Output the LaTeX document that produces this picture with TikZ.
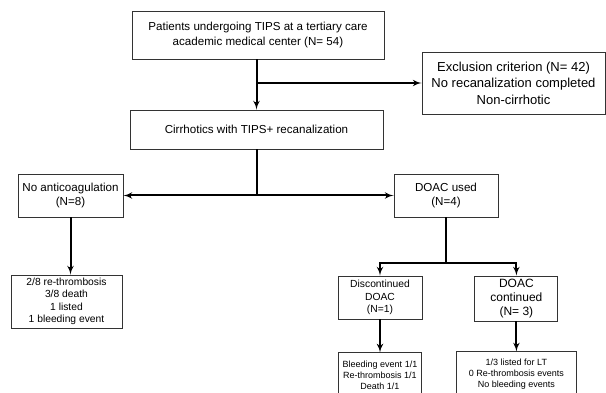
\documentclass[tikz,border=0pt]{standalone}
\usepackage{fontspec}
\setmainfont{Liberation Sans}
\usepackage{tikz}
\usetikzlibrary{calc,arrows,shapes,positioning}
\definecolor{boxgray}{HTML}{333333}
\tikzset{
box/.style={
  rectangle,
  draw=boxgray,
  line width=0.9pt,
  align=center,
  inner sep=0pt},
line/.style={draw, line width=2pt, -latex'},
big/.style={font=\fontsize{13}{16.5}\selectfont},
mid/.style={font=\fontsize{11.6}{14.2}\selectfont},
small/.style={font=\fontsize{10.3}{12.4}\selectfont},
tiny/.style={font=\fontsize{9}{11}\selectfont}
}
\begin{document}
\begin{tikzpicture}[x=1pt,y=-1pt]
    \useasboundingbox (0,0) rectangle (606,393);
    \node [box, mid, minimum width=252, minimum height=48] (pat) at (258,35)
      {Patients undergoing TIPS at a tertiary care\\academic medical center (N= 54)};
    \node [box, big, minimum width=183, minimum height=62] (excl) at (513.5,83)
      {Exclusion criterion (N= 42)\\No recanalization completed\\Non-cirrhotic};
    \node [box, mid, minimum width=253, minimum height=39] (cirr) at (256.5,129.5)
      {Cirrhotics with TIPS+ recanalization};
    \node [box, mid, minimum width=105, minimum height=43] (noac) at (70.5,195.5)
      {No anticoagulation\\(N=8)};
    \node [box, mid, minimum width=104, minimum height=43] (doac) at (446,195.5)
      {DOAC used\\(N=4)};
    \node [box, small, minimum width=111, minimum height=53] (nores) at (66.5,301.5)
      {2/8 re-thrombosis\\3/8 death\\1 listed\\1 bleeding event};
    \node [box, small, minimum width=84, minimum height=43] (disc) at (380,297.5)
      {Discontinued\\DOAC\\(N=1)};
    \node [box, font=\fontsize{12}{14}\selectfont, minimum width=83, minimum height=45,
      right=52pt of disc.north east, anchor=north west] (cont)
      {DOAC\\continued\\(N= 3)};
    \node [box, tiny, minimum width=83, minimum height=44,
      below=33pt of disc.south, anchor=north] (discres)
      {Bleeding event 1/1\\Re-thrombosis 1/1\\Death 1/1};
    \node [box, tiny, minimum width=120, minimum height=44,
      below=30pt of cont.south, anchor=north] (contres)
      {1/3 listed for LT\\0 Re-thrombosis events\\No bleeding events};
    \coordinate (fork) at ($(doac.south)+(0,46)$);
    \path [line] (pat.south -| cirr.north) -- (cirr.north);
    \path [line] (excl.west -| cirr.north) -- (excl.west);
    \path [draw, line width=2pt] (cirr.south) -- (cirr.south |- noac.east);
    \path [line] (cirr.south |- noac.east) -- (noac.east);
    \path [line] (cirr.south |- doac.west) -- (doac.west);
    \path [line] (noac.south) -- (noac.south |- nores.north);
    \path [line] (doac.south) -- (fork) -| (disc.north);
    \path [line] (fork) -| (cont.north);
    \path [line] (disc.south) -- (discres.north);
    \path [line] (cont.south) -- (contres.north);
\end{tikzpicture}
\end{document}
